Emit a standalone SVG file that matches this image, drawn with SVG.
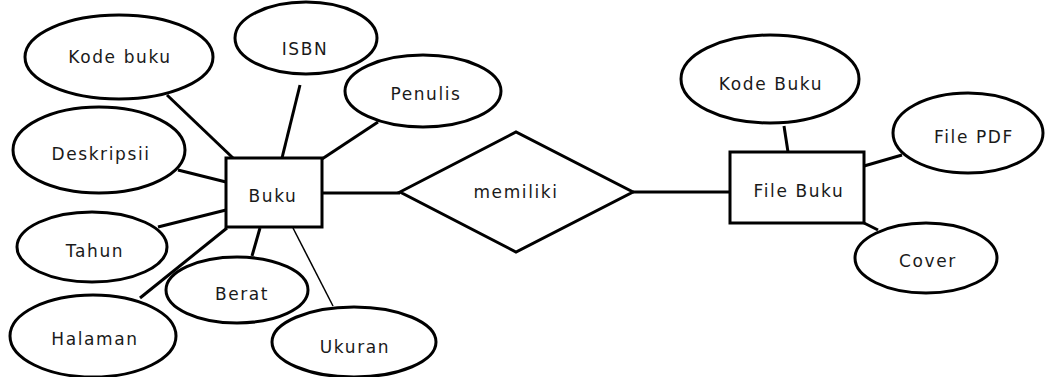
<svg xmlns="http://www.w3.org/2000/svg" width="1054" height="377" viewBox="0 0 1054 377">
<style>
.s{fill:#fff;stroke:#000;stroke-width:3}
.c line{stroke:#000;stroke-width:3}
text{font-family:"DejaVu Sans",Verdana,sans-serif;font-size:17px;letter-spacing:1.6px;fill:#1a1a1a;text-anchor:middle}
</style>
<rect width="1054" height="377" fill="#fff"/>
<g class="c" id="connectors">
<line x1="167" y1="95" x2="233" y2="158"/>
<line x1="300" y1="85" x2="282" y2="158"/>
<line x1="378" y1="122" x2="322" y2="159"/>
<line x1="178" y1="170" x2="226" y2="182"/>
<line x1="158" y1="227" x2="226" y2="210"/>
<line x1="227" y1="228" x2="140" y2="298"/>
<line x1="260" y1="228" x2="252" y2="256"/>
<line x1="293" y1="228" x2="333" y2="306" style="stroke-width:1.5"/>
<line x1="322" y1="193" x2="400" y2="193"/>
<line x1="633" y1="192" x2="730" y2="192"/>
<line x1="784" y1="126" x2="788" y2="152"/>
<line x1="864" y1="166" x2="902" y2="155"/>
<line x1="864" y1="223" x2="878" y2="230"/>
</g>
<g id="kode-buku"><ellipse class="s" cx="119" cy="57" rx="94" ry="42"/><text x="120" y="63">Kode buku</text></g>
<g id="isbn"><ellipse class="s" cx="306" cy="38" rx="71" ry="36"/><text x="305" y="55">ISBN</text></g>
<g id="penulis"><ellipse class="s" cx="423" cy="91" rx="78" ry="36"/><text x="426" y="100">Penulis</text></g>
<g id="deskripsii"><ellipse class="s" cx="99" cy="150" rx="86" ry="43"/><text x="101" y="160">Deskripsii</text></g>
<g id="tahun"><ellipse class="s" cx="92" cy="247" rx="75" ry="35"/><text x="95" y="257">Tahun</text></g>
<g id="berat"><ellipse class="s" cx="237" cy="290" rx="71" ry="33"/><text x="242" y="300">Berat</text></g>
<g id="halaman"><ellipse class="s" cx="93" cy="336" rx="83" ry="41"/><text x="95" y="345">Halaman</text></g>
<g id="ukuran"><ellipse class="s" cx="354" cy="342" rx="82" ry="35"/><text x="355" y="353">Ukuran</text></g>
<g id="buku"><rect class="s" x="226" y="158" width="96" height="69"/><text x="273" y="202">Buku</text></g>
<g id="memiliki"><polygon class="s" points="400,192 516,132 633,192 516,252"/><text x="516" y="198">memiliki</text></g>
<g id="file-buku"><rect class="s" x="730" y="152" width="134" height="71"/><text x="799" y="197">File Buku</text></g>
<g id="kode-buku-2"><ellipse class="s" cx="770" cy="79" rx="89" ry="44"/><text x="771" y="90">Kode Buku</text></g>
<g id="file-pdf"><ellipse class="s" cx="968" cy="133" rx="75" ry="40"/><text x="974" y="143">File PDF</text></g>
<g id="cover"><ellipse class="s" cx="926" cy="258" rx="71" ry="35"/><text x="928" y="267">Cover</text></g>
</svg>
